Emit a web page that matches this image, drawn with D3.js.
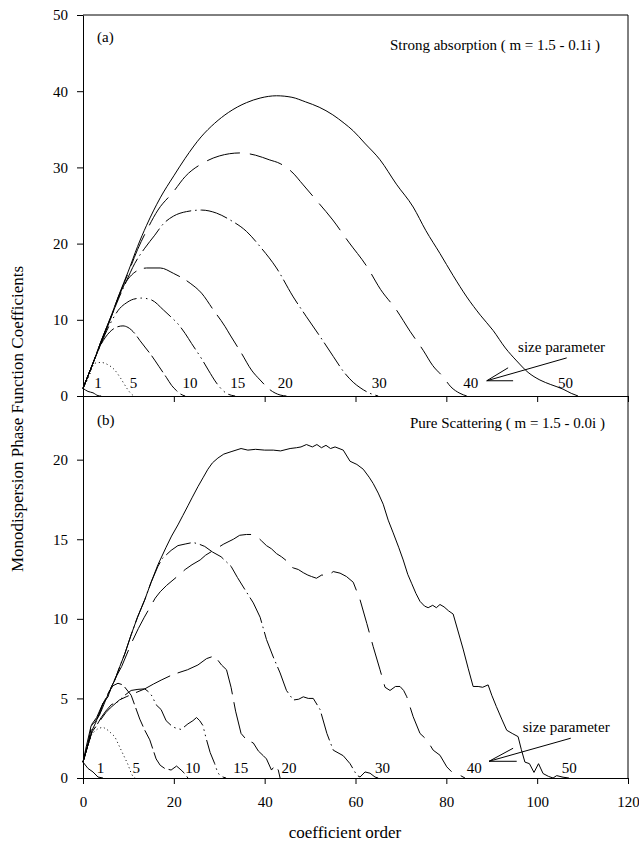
<!DOCTYPE html>
<html>
<head>
<meta charset="utf-8">
<script src="https://cdn.jsdelivr.net/npm/d3@7"></script>
<style>
body { margin: 0; background: #fff; }
svg { display: block; font-family: "Liberation Serif", "Times New Roman", serif; }
.axis path, .axis line { stroke: #000; stroke-width: 1; }
.axis text { font-size: 15px; fill: #000; font-family: "Liberation Serif", serif; }
.curve { fill: none; stroke: #000; stroke-width: 1; }
</style>
</head>
<body>
<svg width="639" height="841"></svg>
<script>
var sizes = [1, 5, 10, 15, 20, 30, 40, 50];
var dashes = [null, "1,3", "20,4", "26,4,1.5,4,1.5,4", "38,8", "28,4,1.5,4", "34,10", null];

// (a) strong absorption, m = 1.5 - 0.1i   [order, coefficient]
var abs1 = [[0,1],[1.1,0.6],[2.2,0.42],[3.3,0.05],[4,0]];
var abs5 = [[0,1],[1.2,2.4],[2.6,4.3],[4,4.4],[5.5,4.1],[7,3.4],[8.1,2.5],[9.2,1.45],[9.9,0.8],[11,0.1],[11.5,0]];
var abs10 = [[0,1],[2,4],[4,6.8],[5.9,8.4],[7.7,9.1],[8.8,9.2],[9.9,9],[11.4,8.2],[12.5,7.3],[13.8,6.3],[15.1,5.3],[16.7,3.9],[18.4,2.4],[19.5,1.4],[20.6,0.7],[21.5,0.25],[22.5,0]];
var abs15 = [[0,1],[2,4],[4,6.9],[6,9.5],[8.1,11.5],[9.5,12.2],[11.1,12.7],[12.9,12.85],[15.1,12.6],[17.7,11.3],[19.5,10.3],[21,9.4],[22.5,8.2],[23.9,6.9],[26.1,4.9],[27.6,3.4],[29.4,1.7],[30.5,0.9],[31.6,0.35],[33.5,0]];
var abs20 = [[0,1],[2,4],[4,7],[6,10],[8.1,13.4],[9.5,15],[11.1,16.1],[12.5,16.6],[14,16.8],[17,16.8],[19.9,16.1],[23.6,14.8],[26.1,13.5],[28.7,11.3],[31.3,9.1],[32.4,8],[34.9,5.6],[37.1,3.4],[39,2.1],[41.2,0.8],[43.4,0.13],[44.8,0]];
var abs30 = [[0,1],[2,4],[4,7.2],[6,10.1],[8,13],[9.5,15],[11.4,17.4],[13.6,19.4],[15.8,21.1],[17.7,22.6],[19.9,23.6],[22.8,24.2],[26.1,24.4],[29.4,24],[32.4,23.1],[36,21.6],[39,19.6],[42.6,16.8],[46.3,13],[49.2,10.4],[52.2,7.8],[55.1,5.2],[57.5,3.1],[59.5,1.8],[61,1.1],[63,0.4],[65,0]];
var abs40 = [[0,1],[2,4],[4,7.2],[6,10.2],[8,13.3],[10,16.2],[12,19.2],[14,21.7],[16.5,24.4],[19.9,26.8],[22.5,28.8],[26.5,30.6],[30,31.5],[34.6,31.9],[38,31.6],[41,31],[43.4,30.5],[46,29.4],[48.5,27.7],[51.5,25.6],[55,23.1],[58.5,20.2],[62.5,17],[65.5,14],[69,11.3],[72,8.5],[74.9,6],[77,4],[79.3,2.5],[81,1.2],[83,0.35],[84.5,0]];
var abs50 = [[0,1],[2,4],[4,7.2],[6,10.2],[8,13.4],[10,16.4],[12,19.6],[14,22.4],[17,26],[20,28.9],[22.5,31.2],[26,34],[29,35.8],[32,37.2],[36,38.5],[39,39.1],[42.6,39.4],[46,39.2],[49,38.6],[52,37.9],[55,36.9],[57.5,35.8],[59.5,34.8],[62,33.2],[65.4,31],[69,27.8],[72.7,24.8],[75.5,21.7],[78.6,18.7],[81.5,15.8],[84.5,13],[87.5,10.6],[90.3,8.6],[93,6.3],[95.5,4.6],[98,3.1],[100.6,2.1],[103,1.5],[105.7,0.9],[107.5,0.35],[109,0]];

// (b) pure scattering, m = 1.5 - 0.0i
var sca1 = [[0,1],[1.1,0.6],[2.2,0.38],[3.3,0.06],[4.4,0]];
var sca5 = [[0,1],[1,2],[2,2.8],[3.3,3.1],[4.4,3.2],[5.5,3],[7,2.6],[8.4,1.75],[9.9,0.85],[10.6,0.3],[11,0.1],[11.5,0]];
var sca10 = [[0,1],[1,2],[2,3],[3,3.6],[4,4.4],[5.5,5.3],[6.6,5.8],[7.7,5.95],[8.8,5.85],[10.6,5.2],[12.5,3.7],[13.6,3],[14.7,2.4],[16.1,1.2],[17,0.8],[18,0.6],[19.4,0.5],[20.6,0.75],[21.6,0.5],[22.4,0.28],[23.1,0]];
var sca15 = [[0,1],[1,2],[2,2.9],[3,3.3],[4,3.8],[5,4.2],[6.2,4.6],[7.7,4.8],[9.2,5.2],[10.6,5.5],[12.1,5.57],[13.6,5.6],[14.5,5.4],[15.2,5.15],[16.1,4.6],[17.2,4.3],[18.3,3.6],[19.8,3.2],[20.9,3.1],[21.6,3.05],[23.1,3.4],[24.2,3.6],[25,3.8],[25.7,3.6],[26.4,3.3],[27.1,2.5],[28,1.6],[29,0.9],[29.7,0.3],[30.8,0.06],[31.5,0]];
var sca20 = [[0,1],[1,2],[2,2.9],[3,3.3],[4,3.7],[5,4.1],[6,4.4],[8,4.9],[9.5,5.1],[11.5,5.35],[13.6,5.6],[15.5,5.9],[17.2,6.15],[19.8,6.5],[23,6.8],[25.3,7.1],[27.2,7.5],[28.7,7.65],[29.7,7.4],[30.5,7.1],[31.6,6.8],[32.6,5.7],[33.6,4.2],[34.8,2.8],[36,2.4],[37.5,2.2],[38.6,1.7],[39.7,1.4],[40.4,1.2],[41.5,0.5],[42.3,0.8],[43,0.5],[43.4,0]];
var sca30 = [[0,1],[1,2],[2,3.4],[3,3.8],[4.4,4.7],[5.5,5.1],[6.2,5.7],[7,6.15],[8.1,7],[9.2,7.8],[10.6,9],[12,10.1],[13.6,11.2],[15,12.3],[16.5,13.3],[17.5,13.8],[19.4,14.3],[20.9,14.6],[22.5,14.7],[24.2,14.8],[25.5,14.7],[26.8,14.55],[28.5,14.2],[30.4,13.9],[32.6,13.3],[34,12.6],[35.3,12],[37.5,11],[39,10.1],[40.4,8.7],[41.9,7.6],[43.4,6.6],[44.8,5.5],[46.3,4.9],[47.5,4.95],[48.5,5.1],[49.6,5],[50.7,5],[52.2,4.3],[53.7,2.8],[55.1,1.75],[57.3,1.4],[58.8,0.9],[60.3,0.17],[61,0.06],[62.1,0.38],[63.2,0.3],[64.3,0.06],[65,0]];
var sca40 = [[0,1],[1,2],[2,3.4],[3,3.7],[4,4.2],[5,4.9],[6,5.6],[7,6.2],[8.5,7],[10.7,8.5],[12.2,9.4],[13.5,10.1],[14.7,10.7],[15.9,11.3],[17,11.7],[18.4,12.1],[20.5,12.6],[22.5,13.1],[24,13.4],[25.8,13.7],[27,14],[28.7,14.3],[31,14.7],[33.1,15],[34.5,15.25],[36,15.3],[37,15.3],[38.2,15.2],[39.3,14.9],[40.4,14.6],[41.5,14.4],[42.6,14.1],[43.7,13.9],[44.8,13.65],[45.5,13.3],[46.3,13.2],[47.4,13.1],[48.5,12.9],[49.5,12.75],[50.3,12.66],[51.4,12.55],[52.6,12.76],[53.7,12.66],[55.1,12.97],[56.6,12.87],[58,12.66],[59.5,12.3],[61,11.2],[62.5,9.7],[63.9,8.25],[65.4,6.8],[66.5,5.7],[67.6,5.5],[68.8,5.75],[69.8,5.75],[70.6,5.5],[71.3,5.1],[72.7,3.85],[74.2,2.8],[75.7,2.4],[77.1,1.75],[78.6,1.43],[80.1,0.7],[81.2,0.38],[83,0.17],[84.1,0]];
var sca50 = [[0,1],[0.7,1.95],[1.8,3.3],[2.9,3.6],[3.7,4],[4.4,4.7],[5.5,5.1],[6.2,5.7],[7,6.15],[8.1,7],[9.2,7.8],[10.6,9],[12,10.1],[13.6,11.2],[15,12.3],[16.5,13.4],[18.3,14.5],[19.5,15.2],[20.9,15.9],[22,16.5],[23.1,17.1],[24,17.6],[25.3,18.3],[26.5,18.9],[27.5,19.4],[28.5,19.8],[29.7,20.1],[31,20.35],[32.6,20.5],[34.8,20.7],[36.3,20.6],[38,20.65],[40,20.6],[41.9,20.6],[43.5,20.55],[45.6,20.7],[47,20.75],[48,20.8],[49.2,20.95],[50.5,20.8],[51.5,20.95],[52.5,20.75],[53.5,20.9],[54.5,20.7],[55.5,20.8],[57.3,20.6],[58.8,19.9],[60.3,19.7],[61.7,19.4],[63,18.9],[63.9,18.5],[65,17.9],[66.1,17.2],[67.2,16.2],[68.3,15.4],[69.5,14.5],[70.5,13.7],[71.5,12.8],[72.4,12.2],[73.3,11.6],[74.2,11.1],[75.2,10.8],[76,10.7],[77,10.85],[77.8,10.7],[78.6,10.9],[79.5,10.75],[80.5,10.5],[81.5,10.3],[82.5,9.3],[83.7,8.1],[84.8,6.9],[85.9,5.75],[87,5.75],[88,5.7],[89.2,5.85],[90,5.2],[91,4.5],[92.2,3.7],[93.3,3],[94.5,2.8],[95.8,2.6],[96.5,1.8],[97.3,1],[98.3,0.9],[99.3,0.35],[100.3,0.9],[101.3,0.28],[102.5,0.1],[103.5,0],[104.3,0.15],[105.7,0.05],[107,0]];

var absCurves = [abs1, abs5, abs10, abs15, abs20, abs30, abs40, abs50];
var scaCurves = [sca1, sca5, sca10, sca15, sca20, sca30, sca40, sca50];

// where the size-parameter numbers sit (coefficient order)
var labelXTop = [2.5, 10.3, 21.9, 32.4, 42.9, 63.6, 83.7, 104.6];
var labelXBot = [3.0, 10.9, 22.5, 33.1, 43.7, 64.3, 84.5, 105.4];

var xTicks = [0, 20, 40, 60, 80, 100, 120];
var yTicksTop = [0, 10, 20, 30, 40, 50];
var yTicksBot = [0, 5, 10, 15, 20];

// pointer lines: tail, tip, barb, barb
var arrowTop = [[106.5, 5.0], [88.9, 2.0], [93.6, 3.7], [94.7, 2.0]];
var arrowBot = [[107.4, 2.5], [89.4, 1.05], [94.7, 1.87], [95.5, 1.05]];

var svg = d3.select("svg");

var x = d3.scaleLinear().domain([0, 120]).range([83, 628]);
var yTop = d3.scaleLinear().domain([0, 50]).range([396, 15]);
var yBot = d3.scaleLinear().domain([0, 24]).range([778, 396]);

// frame
svg.append("line").attr("x1", x(0)).attr("x2", x(120)).attr("y1", yTop(50)).attr("y2", yTop(50)).attr("stroke", "#000");
svg.append("line").attr("x1", x(120)).attr("x2", x(120)).attr("y1", yTop(50)).attr("y2", yBot(0)).attr("stroke", "#000");

svg.append("g").attr("class", "axis")
    .attr("transform", "translate(0," + yTop(0) + ")")
    .call(d3.axisBottom(x).tickValues(xTicks).tickSize(6).tickSizeOuter(0).tickFormat(""));

svg.append("g").attr("class", "axis")
    .attr("transform", "translate(0," + yBot(0) + ")")
    .call(d3.axisBottom(x).tickValues(xTicks).tickSize(6).tickSizeOuter(0).tickPadding(12).tickFormat(d3.format("d")));

svg.append("g").attr("class", "axis")
    .attr("transform", "translate(" + x(0) + ",0)")
    .call(d3.axisLeft(yTop).tickValues(yTicksTop).tickSize(6).tickSizeOuter(0).tickPadding(9));

svg.append("g").attr("class", "axis")
    .attr("transform", "translate(" + x(0) + ",0)")
    .call(d3.axisLeft(yBot).tickValues(yTicksBot).tickSize(6).tickSizeOuter(0).tickPadding(9));

function drawPanel(curves, yScale, curveType, labelX, labelDy, arrow, textX, textY) {
  var line = d3.line()
      .x(function(d) { return x(d[0]); })
      .y(function(d) { return yScale(d[1]); })
      .curve(curveType);

  svg.append("g").selectAll("path")
    .data(curves)
    .enter().append("path")
      .attr("class", "curve")
      .attr("d", line)
      .attr("stroke-dasharray", function(d, i) { return dashes[i]; });

  svg.append("g").selectAll("text")
    .data(sizes)
    .enter().append("text")
      .attr("x", function(d, i) { return x(labelX[i]); })
      .attr("y", yScale(0) - labelDy)
      .attr("font-size", 15)
      .text(function(d) { return d; });

  [arrow[0], arrow[2], arrow[3]].forEach(function(p) {
    svg.append("line")
        .attr("x1", x(p[0])).attr("y1", yScale(p[1]))
        .attr("x2", x(arrow[1][0])).attr("y2", yScale(arrow[1][1]))
        .attr("stroke", "#000");
  });

  svg.append("text")
      .attr("x", x(textX)).attr("y", yScale(textY))
      .attr("font-size", 15)
      .text("size parameter");
}

drawPanel(absCurves, yTop, d3.curveMonotoneX, labelXTop, 8, arrowTop, 95.8, 5.8);
drawPanel(scaCurves, yBot, d3.curveLinear, labelXBot, 5, arrowBot, 96.8, 2.9);

// panel captions
svg.append("text").attr("x", 97).attr("y", 42).attr("font-size", 15).text("(a)");
svg.append("text").attr("x", 600).attr("y", 50).attr("font-size", 15)
    .attr("text-anchor", "end").text("Strong absorption ( m = 1.5 - 0.1i )");
svg.append("text").attr("x", 97).attr("y", 425).attr("font-size", 15).text("(b)");
svg.append("text").attr("x", 605).attr("y", 428).attr("font-size", 15)
    .attr("text-anchor", "end").text("Pure Scattering ( m = 1.5 - 0.0i )");

// axis titles
svg.append("text")
    .attr("x", 345).attr("y", 838)
    .attr("font-size", 17)
    .attr("text-anchor", "middle")
    .text("coefficient order");

svg.append("text")
    .attr("transform", "translate(23,419) rotate(-90)")
    .attr("font-size", 17)
    .attr("text-anchor", "middle")
    .text("Monodispersion Phase Function Coefficients");
</script>
</body>
</html>
